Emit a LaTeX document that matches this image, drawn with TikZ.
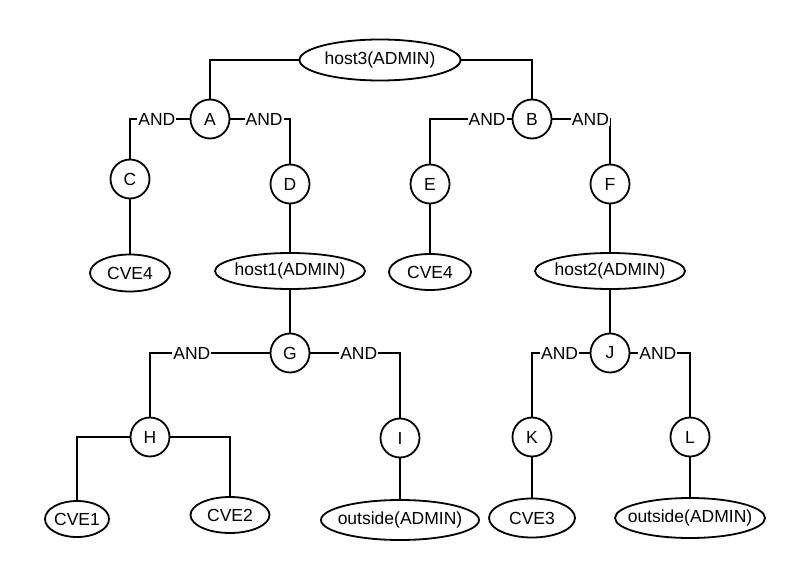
\documentclass[tikz,border=0pt]{standalone}
\usepackage{fontspec}
\setmainfont{Liberation Sans}
\usetikzlibrary{shapes.geometric}

\begin{document}
\begin{tikzpicture}[x=1pt, y=-1pt, line width=1.8pt,
	font=\fontsize{17.5}{20}\selectfont,
	gate/.style={draw, circle, minimum size=39pt, inner sep=0pt},
	fact/.style={draw, ellipse, inner sep=0pt, minimum height=36pt,
		execute at begin node={\hbox to 0pt\bgroup\hss},
		execute at end node={\hss\egroup}},
	andlbl/.style={fill=white, inner sep=1pt}]
	\useasboundingbox (0,0) rectangle (805,580);

	% goal
	\node [fact, minimum width=161pt, minimum height=41pt] (host3) at (380,60) {host3(ADMIN)};

	% gates
	\foreach \n/\x/\y in {A/210/119, B/532/119, C/130/179, D/290/184, E/430/184, F/610/184,
		G/290/353, J/610/353, H/150/437, I/400/438, K/532/437, L/690/437}
		\node [gate] (\n) at (\x,\y) {\n};

	% facts
	\node [fact, minimum width=80pt, minimum height=37pt] (cve4a) at (130,273) {CVE4};
	\node [fact, minimum width=150pt] (host1) at (290,271) {host1(ADMIN)};
	\node [fact, minimum width=82pt] (cve4b) at (430,272) {CVE4};
	\node [fact, minimum width=150pt] (host2) at (610,271) {host2(ADMIN)};
	\node [fact, minimum width=64pt] (cve1) at (77,519) {CVE1};
	\node [fact, minimum width=79pt] (cve2) at (230,515) {CVE2};
	\node [fact, minimum width=158pt, minimum height=40pt] (outa) at (400,520) {outside(ADMIN)};
	\node [fact, minimum width=86pt, minimum height=39pt] (cve3) at (532,518) {CVE3};
	\node [fact, minimum width=150pt, minimum height=40pt] (outb) at (690,518) {outside(ADMIN)};

	% edges
	\draw (host3) -| (A);
	\draw (host3) -| (B);
	\draw (H) -| (cve1);
	\draw (H) -| (cve2);
	\foreach \a/\b in {C/cve4a, D/host1, E/cve4b, F/host2, host1/G, host2/J, I/outa, K/cve3, L/outb}
		\draw (\a) -- (\b);
	\foreach \a/\b/\p in {A/C/0.275, A/D/0.283, B/E/0.15, B/F/0.33,
		G/H/0.325, G/I/0.27, J/K/0.26, J/L/0.23}
		\draw (\a) -| node [andlbl, pos=\p] {AND} (\b);
\end{tikzpicture}
\end{document}
